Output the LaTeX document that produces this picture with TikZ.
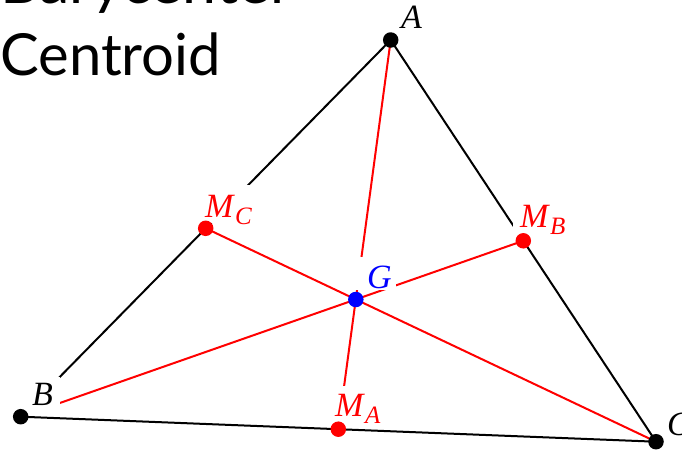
\documentclass[tikz,border=0pt]{standalone}
\usepackage{fontspec}
\setmainfont{Liberation Serif}
\newfontfamily\titlefont{Lato}
\newcommand\lbl[2]{\textit{#1}\raisebox{-7pt}{\fontsize{25}{25}\selectfont\textit{#2}}}
\begin{document}
\begin{tikzpicture}[x=1pt,y=-1pt,
  edge/.style={line width=2pt,black},
  med/.style={line width=2pt,red},
  dot/.style={circle,inner sep=0pt,minimum size=15.5pt},
  lab/.style={fill=white,inner sep=0pt,anchor=base west,align=left,font=\fontsize{34}{34}\selectfont},
  ttl/.style={anchor=base west,inner sep=0pt,font=\titlefont\fontsize{58}{58}\selectfont}]
\useasboundingbox[fill=white] (0,0) rectangle (682,455);
\coordinate (A) at (390.7,40);
\coordinate (B) at (20.7,416.7);
\coordinate (C) at (656,441.7);
\coordinate (MA) at (338.3,429.2);
\coordinate (MB) at (523.3,240.8);
\coordinate (MC) at (205.7,228.3);
\coordinate (G) at (355.8,299.5);
% sides
\draw[edge] (A) -- (B);
\draw[edge] (B) -- (C);
\draw[edge] (A) -- (C);
% medians
\draw[med] (A) -- (MA);
\draw[med] (B) -- (MB);
\draw[med] (C) -- (MC);
% labels
\node[lab,fill=none,text=black] (lA) at (401,28) {\textit{A}};
\node[lab,text=red,text width=52pt,text height=32pt,text depth=6pt] (lMC) at (200,217) {\hspace*{5pt}\lbl{M}{C}};
\node[lab,text=red,text width=59pt,text height=24pt,text depth=9pt] (lMB) at (513,227) {\hspace*{7pt}\lbl{M}{B}};
\node[lab,text=red,text width=54pt,text height=30.7pt,text depth=7.3pt] (lMA) at (330,416.7) {\hspace*{5pt}\lbl{M}{A}};
\node[lab,text=black,text width=35pt,text height=28pt,text depth=9.5pt] (lB) at (25,405) {\hspace*{7pt}\textit{B}};
\node[lab,text=blue,text width=41pt,text height=31pt,text depth=2pt] (lG) at (355,288) {\hspace*{12pt}\textit{G}};
\node[lab,fill=none,text=black] (lC) at (667,435) {\textit{C}};
% dots
\node[dot,fill=black] (dA) at (A) {};
\node[dot,fill=black] (dB) at (B) {};
\node[dot,fill=black] (dC) at (C) {};
\node[dot,fill=red] (dMA) at (MA) {};
\node[dot,fill=red] (dMB) at (MB) {};
\node[dot,fill=red] (dMC) at (MC) {};
\node[dot,fill=blue] (dG) at (G) {};
% title
\node[ttl] (t1) at (0,4) {\scalebox{1.05}[1]{Barycenter}};
\node[ttl] (t2) at (0,75) {Centroid};
\end{tikzpicture}
\end{document}
